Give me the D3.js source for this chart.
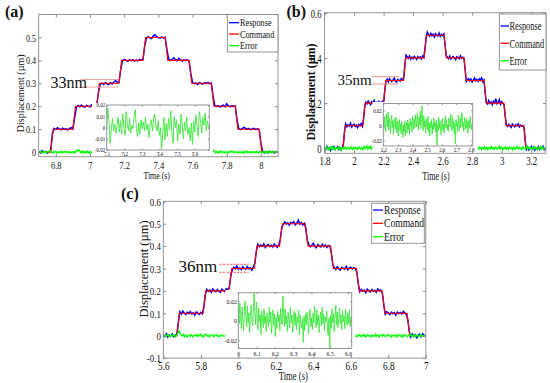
<!DOCTYPE html>
<html>
<head>
<meta charset="utf-8">
<script src="https://cdn.jsdelivr.net/npm/d3@7"></script>
<style>
  html, body { margin: 0; padding: 0; background: #fff; }
  svg { display: block; }
  svg text { font-family: "Liberation Serif", "Times New Roman", Times, "DejaVu Serif", serif; }
</style>
</head>
<body>
<svg id="chart" width="550" height="383"></svg>
<script>
// ---------- data (displacement in nm, time in s) ----------
const levels = [0, 0.1, 0.2, 0.3, 0.4, 0.5, 0.4, 0.3, 0.2, 0.1, 0]; // command plateaus (µm)
const legendLabels = ["Response", "Command", "Error"];

// panel (a)
const stepsA = [6.77, 6.90, 7.04, 7.17, 7.31, 7.44, 7.58, 7.71, 7.85, 7.99];
const respA = [4,-3,6,-2,3,-5,2,8,82,103,98,106,101,97,104,99,102,96,103,107,101,148,194,203,198,205,199,196,204,200,
  197,206,201,204,209,262,296,301,295,303,298,294,302,297,305,312,303,306,362,398,404,401,396,402,399,403,397,401,398,404,
  402,405,462,497,503,498,495,506,512,503,499,497,502,498,501,448,406,399,403,411,404,398,409,402,397,403,399,402,396,342,
  303,298,301,295,303,300,296,302,299,304,298,301,245,204,199,203,196,201,205,198,211,202,197,203,199,201,142,103,98,102,
  108,104,99,103,97,101,104,98,102,99,38,3,-4,2,-3,5,-2,1,-4,3,-1]; // from 6.70, every 0.01 s
const errLeftA = [2,-1,3,-3,1,-4,2,-2,0,3,-2,1,4,8,3,-1,-4,2,-3,1,3,-2,0,-4,2,-1,3,-3,1,-2,4,2,-3,1,-1,3,-2,0,-3,2,
  1,-4,3,-1,6,10,5,9,4,-2,3,-3,5,1,-4,2,-2,4,-1,-5,3,0,-3,4,-2,2,-4,1,3,-2,0]; // from 6.70, every 0.005 s
const errRightA = [4,8,2,-3,3,-1,-4,2,-2,5,1,-3,0,3,-4,-1,2,-5,1,3,-2,4,6,2,-3,1,-2,3,-1,-4,2,0,-3,3,-2,1,-5,2,4,-1,
  3,-3,0,2,-4,1,-2,3,-1,2,-3,4,-2,-5,1,3,-1,-3,2,0,-2,3,-4,1,2,-3,4,-1,2,-3,1,3,-2,0,2,-1,3]; // from 7.72
const insetA = [0,17,6,-14,-2,8,-3,3,-5,2,9,-4,6,-6,12,1,-7,14,3,-3,8,-5,2,-1,10,16,-2,-8,4,-6,7,-1,5,-3,9,-2,3,-9,2,7,
  -3,8,12,1,-3,6,-7,0,-19,-5,9,-11,4,-8,8,-2,15,-4,-14,10,0,7,-12,3,-6,12,2,-10,5,-3,9,-6,0,-12,4,-15,6,-4,11,1,
  -8,14,7,-5,9,2,13,-3,6,-1,-2]; // from 7.10
const xTicksA = [6.8, 7, 7.2, 7.4, 7.6, 7.8, 8];
const yTicksA = [0, 0.1, 0.2, 0.3, 0.4, 0.5];
const insetXTicksA = [7.1, 7.2, 7.3, 7.4, 7.5, 7.6];
const insetYTicksA = [-0.02, -0.01, 0, 0.01, 0.02];

// panel (b)
const stepsB = [1.925, 2.06, 2.2, 2.335, 2.475, 2.61, 2.745, 2.88, 3.015, 3.15];
const respB = [5,-6,8,-3,2,-9,4,-2,7,-5,1,6,-4,3,-7,2,20,78,108,96,104,99,111,94,102,107,97,103,92,105,100,109,98,128,182,
  204,197,209,201,193,206,199,211,196,203,198,207,194,202,208,199,255,297,306,294,308,301,296,303,311,299,293,305,302,297,309,304,
  308,368,412,405,398,409,394,403,397,407,401,393,406,399,404,396,408,402,438,489,514,503,496,509,498,505,493,507,501,497,510,495,
  504,499,506,462,410,404,397,408,395,402,406,399,393,405,401,396,409,398,403,400,352,296,304,309,298,306,293,302,311,299,305,297,
  307,301,312,295,303,248,203,196,211,199,205,193,208,201,220,197,204,216,195,206,199,192,143,104,97,106,99,93,107,102,96,105,
  100,108,95,103,98,101,88,28,-4,6,-7,3,9,-2,5,-8,2,-3,7,-5,4,-1,8,-6,3]; // from 1.80, every 0.008 s
const errLeftB = [3,-5,6,-2,4,-7,1,5,-3,8,-4,2,-6,3,0,-2,7,-5,1,-8,3,4,-3,6,-1,-5,2,5,-4,1,7,-2,-6,3,-1,5,-3,2,-4,6,
  1,-3,4,-5,2,8,-2,3,10,-4,6,1,9,-3,5,2]; // from 1.80, every 0.006 s
const errRightB = [4,-3,6,1,-5,3,-2,7,-4,2,5,-6,1,3,-3,8,-1,4,-5,2,6,-2,-4,3,9,-3,5,1,-6,4,-1,7,-3,2,-5,6,0,-2,4,-7,
  3,5,-4,1,8,-2,-3,5,2,-6,3,7,-1,-4,2,10,-3,4,-2,6,-5,1,3,-4,7,-1,2,-6,4,1,-3,8,-2,5,-4,3,0]; // from 2.84
const insetB = [8,-4,12,2,-8,15,5,-2,18,-6,10,3,-10,6,14,-3,7,-12,4,9,
  -5,11,0,-9,6,-14,3,8,-7,2,-11,5,-4,-16,1,-8,6,-13,-2,4,
  -10,7,-6,3,-12,9,-1,5,-8,12,2,-5,10,-3,14,6,-2,16,4,-6,
  11,1,19,-4,8,26,3,-7,13,-2,6,-10,9,0,-5,12,-8,3,-14,5,
  -3,8,-11,2,-6,10,-2,4,-9,7,-26,1,-7,11,-4,6,-1,-12,3,9,
  -6,2,-10,5,13,-3,8,-5,1,-8,10,4,-2,15,0,-7,12,-4,6,-11,
  3,-24,8,-1,5,-9,14,2,-6,10,-3,7,17,-2,4,-8,11,1,-5,9,
  -3,6,-10,2,8,-4,12,0,-6,3,5]; // from 2.20
const xTicksB = [1.8, 2, 2.2, 2.4, 2.6, 2.8, 3, 3.2];
const yTicksB = [0, 0.2, 0.4, 0.6];
const insetXTicksB = [2.2, 2.3, 2.4, 2.5, 2.6, 2.7, 2.8];
const insetYTicksB = [-0.02, 0, 0.02];

// panel (c)
const stepsC = [5.672, 5.812, 5.95, 6.085, 6.22, 6.357, 6.492, 6.63, 6.767, 6.90];
const respC = [6,-4,9,-7,3,-2,8,-5,2,4,58,107,96,110,101,94,105,99,108,97,103,92,106,100,95,104,98,128,183,
  207,198,204,193,209,201,196,206,199,194,208,203,197,210,205,216,268,294,306,299,311,297,303,295,308,301,296,309,298,304,293,307,
  322,376,408,397,405,399,410,394,403,407,398,404,396,409,401,395,406,431,484,497,508,499,504,493,506,501,509,495,503,516,498,505,
  494,502,478,425,409,397,404,412,399,393,407,401,396,408,398,405,394,403,400,371,318,304,296,308,299,293,305,301,297,309,294,303,
  306,298,304,300,285,231,196,207,199,204,192,208,201,195,206,198,203,194,209,200,205,191,138,96,107,101,94,105,98,103,92,106,
  99,104,97,108,102,95,71,18,-6,8,-3,5,-9,2,7,-4,9,-2,4]; // from 5.60, every 0.008 s
const errLeftC = [3,-5,4,-2,6,-4,1,-3,5,-1,2,-6,4,12,22,10,3,-2,6,-4,2,-7,1,4,-3,5,-5,0,3,-2,6,-4,2,7,-3,1,-5,4,8,-2,
  3,-6,2,5,-1,-4,3,6,-3,1,-5,2,4,-2,0,-3]; // from 5.60, every 0.006 s
const errRightC = [-6,2,-3,5,1,-4,3,-2,6,-5,0,4,-3,2,-6,3,1,-4,7,-2,3,-5,1,4,-3,6,-1,-4,2,5,-2,3,-6,1,4,-3,2,-5,6,0,
  -3,4,-7,2,5,-1,-4,3,-2,6,-3,1,-5,4,-2,3,-6,2,5,-4,1,-3,2]; // from 6.625
const insetC = [12,-3,18,5,-8,14,2,-10,9,20,4,-6,15,-2,8,-12,6,16,1,-5,
  11,30,7,-4,19,3,-9,13,-1,6,-14,10,2,-7,12,-3,5,-11,8,0,
  -6,14,-2,9,-13,4,11,-5,7,-16,3,-8,10,-1,6,-10,13,2,-4,25,
  8,-6,12,-3,5,-11,9,1,-7,14,-2,6,-12,3,10,-5,8,-9,4,-2,
  11,-14,6,-3,-8,2,-22,5,-10,7,-4,9,-1,-13,4,12,-6,3,-9,8,
  -2,15,0,-7,11,-4,6,-12,2,9,-5,14,-3,7,-10,4,-1,10,-6,-15,
  3,-30,5,-8,12,-2,7,-11,4,16,-4,9,-7,2,13,-3,6,-9,10,-1,
  5,-8,12,0,-5,8,-3,11,-6,4,2]; // from 6.00
const xTicksC = [5.6, 5.8, 6, 6.2, 6.4, 6.6, 6.8, 7];
const yTicksC = [-0.1, 0, 0.1, 0.2, 0.3, 0.4, 0.5, 0.6];
const insetXTicksC = [6, 6.1, 6.2, 6.3, 6.4, 6.5, 6.6];
const insetYTicksC = [-0.02, 0, 0.02];

// ---------- helpers ----------
const grey = "#8a8a8a";
const RAMP = 0.015;
const svg = d3.select("#chart");

function sampled(t0, dt, vals) { return vals.map((v, i) => [t0 + i * dt, v / 1000]); }

function stairs(edges, x0, x1) {
  const pts = [[x0, levels[0]]];
  edges.forEach((t, k) => { pts.push([t, levels[k]], [t + RAMP, levels[k + 1]]); });
  pts.push([x1, levels[levels.length - 1]]);
  return pts;
}

// the source figure is squashed horizontally, so text is narrowed too
function squeeze(sel, k) {
  sel.each(function () {
    const t = d3.select(this);
    const x = +t.attr("x") || 0;
    const pre = t.attr("transform") || "";
    t.attr("x", x / k).attr("transform", `${pre} scale(${k},1)`);
  });
}

function frame(g, x, y, o) {
  const [x0, x1] = x.range(), [y0, y1] = y.range();
  const add = (axis, tr) => g.append("g").attr("transform", tr).call(axis)
    .attr("font-family", null).attr("color", grey)
    .call(s => s.select(".domain").remove());
  const bx = add(d3.axisBottom(x).tickValues(o.xTicks).tickFormat(String).tickSizeInner(-o.tick).tickSizeOuter(0), `translate(0,${y0})`);
  bx.selectAll("text").attr("y", o.xLabY).attr("dy", null).attr("fill", "#111").attr("font-size", o.xFont).call(squeeze, o.sq);
  const ly = add(d3.axisLeft(y).tickValues(o.yTicks).tickFormat(String).tickSizeInner(-o.tick).tickSizeOuter(0), `translate(${x0},0)`);
  ly.selectAll("text").attr("x", -o.yLabX).attr("dy", "0.34em").attr("fill", "#111").attr("font-size", o.yFont).call(squeeze, o.sq);
  add(d3.axisTop(x).tickValues(o.xTicks).tickFormat("").tickSizeInner(-o.tick).tickSizeOuter(0), `translate(0,${y1})`);
  add(d3.axisRight(y).tickValues(o.yTicks).tickFormat("").tickSizeInner(-o.tick).tickSizeOuter(0), `translate(${x1},0)`);
  g.append("rect").attr("x", x0).attr("y", y1).attr("width", x1 - x0).attr("height", y0 - y1)
    .attr("fill", "none").attr("stroke", grey).attr("stroke-width", 0.9);
}

function panel(p) {
  const g = svg.append("g");
  const [L, T, R, B] = p.box;
  const x = d3.scaleLinear().domain(p.xDomain).range([L, R]);
  const y = d3.scaleLinear().domain(p.yDomain).range([B, T]);
  const line = d3.line().x(d => x(d[0])).y(d => y(d[1]));

  g.append("clipPath").attr("id", "clip-" + p.id).append("rect")
    .attr("x", L).attr("y", T).attr("width", R - L).attr("height", B - T);
  const plot = g.append("g").attr("clip-path", `url(#clip-${p.id})`);

  plot.append("path").datum(p.resp).attr("d", line)
    .attr("fill", "none").attr("stroke", "#0000ff").attr("stroke-width", 1.5);
  plot.append("path").datum(p.cmd).attr("d", line)
    .attr("fill", "none").attr("stroke", "#ff0000").attr("stroke-width", 1.1);
  p.err.forEach(seg => plot.append("path").datum(seg).attr("d", line)
    .attr("fill", "none").attr("stroke", "#00ff00").attr("stroke-width", 1.3));

  // ripple annotation
  const a = p.note;
  [a.hi, a.lo].forEach(v => g.append("line")
    .attr("x1", x(a.t0)).attr("x2", x(a.t1)).attr("y1", y(v)).attr("y2", y(v))
    .attr("stroke", a.color).attr("stroke-width", 0.9).attr("stroke-dasharray", a.dash));
  g.append("text").attr("x", x(a.textT)).attr("y", y(a.textV)).attr("text-anchor", "end")
    .attr("font-size", a.font).attr("fill", "#111").text(a.label);

  // inset with the error close up
  const q = p.inset;
  g.append("rect").attr("x", q.bg[0]).attr("y", q.bg[1]).attr("width", q.bg[2] - q.bg[0]).attr("height", q.bg[3] - q.bg[1])
    .attr("fill", "#fff");
  const ix = d3.scaleLinear().domain(q.xDomain).range([q.box[0], q.box[2]]);
  const iy = d3.scaleLinear().domain(q.yDomain).range([q.box[3], q.box[1]]);
  g.append("clipPath").attr("id", "iclip-" + p.id).append("rect")
    .attr("x", q.box[0]).attr("y", q.box[1]).attr("width", q.box[2] - q.box[0]).attr("height", q.box[3] - q.box[1]);
  g.append("path").datum(q.data).attr("clip-path", `url(#iclip-${p.id})`)
    .attr("d", d3.line().x(d => ix(d[0])).y(d => iy(d[1])))
    .attr("fill", "none").attr("stroke", "#3ee83e").attr("stroke-width", 0.9);
  frame(g, ix, iy, q.axis);

  frame(g, x, y, p.axis);

  // legend
  const lg = p.legend;
  g.append("rect").attr("x", lg.box[0]).attr("y", lg.box[1]).attr("width", lg.box[2] - lg.box[0]).attr("height", lg.box[3] - lg.box[1])
    .attr("fill", "#fff").attr("stroke", grey).attr("stroke-width", 0.9);
  const colors = ["#0000ff", "#ff0000", "#00ff00"];
  legendLabels.forEach((name, i) => {
    g.append("line").attr("x1", lg.line[0]).attr("x2", lg.line[1]).attr("y1", lg.rows[i]).attr("y2", lg.rows[i])
      .attr("stroke", colors[i]).attr("stroke-width", 1.3);
    g.append("text").attr("x", lg.textX).attr("y", lg.rows[i]).attr("dy", "0.34em")
      .attr("font-size", lg.font).attr("fill", "#111").text(name)
      .call(squeeze, lg.sq);
  });

  // titles
  const t = p.titles;
  g.append("text").attr("x", t.x[0]).attr("y", t.x[1]).attr("text-anchor", "middle")
    .attr("font-size", t.xFont).attr("fill", "#111").text("Time (s)")
    .call(squeeze, t.sq);
  g.append("text").attr("transform", `translate(${t.y[0]},${t.y[1]}) rotate(-90)`).attr("text-anchor", "middle")
    .attr("dy", "0.35em").attr("font-size", t.yFont)
    .attr("font-weight", t.yBold ? "bold" : "normal").attr("fill", "#111").text("Displacement (µm)");
  g.append("text").attr("x", t.tag[0]).attr("y", t.tag[1])
    .attr("font-size", 16).attr("font-weight", "bold").attr("fill", "#111").text(`(${p.id})`);
}

// ---------- panels ----------
panel({
  id: "a", box: [38.7, 14.5, 278, 156.7], xDomain: [6.7, 8.1], yDomain: [-0.02, 0.6],
  resp: sampled(6.70, 0.01, respA), cmd: stairs(stepsA, 6.7, 8.1),
  err: [sampled(6.70, 0.005, errLeftA), sampled(7.72, 0.005, errRightA)],
  axis: { xTicks: xTicksA, yTicks: yTicksA, tick: 3, xLabY: 12.3, yLabX: 2.5, xFont: 11, yFont: 10.5, sq: 0.78 },
  note: { label: "33nm", t0: 6.945, t1: 7.165, hi: 0.3165, lo: 0.2835, textT: 6.983, textV: 0.2816, font: 16, color: "#f29a9a", dash: null },
  inset: {
    bg: [92, 103, 212, 156], box: [106.7, 105, 209.3, 150], xDomain: [7.1, 7.683], yDomain: [-0.02, 0.02],
    data: sampled(7.10, 0.0065, insetA),
    axis: { xTicks: insetXTicksA, yTicks: insetYTicksA, tick: 1.5, xLabY: 6, yLabX: 1.5, xFont: 5.5, yFont: 5.5, sq: 0.9 }
  },
  legend: { box: [227.3, 14.5, 278, 52], rows: [22.7, 34, 45.7], line: [229, 239], textX: 240, font: 11, sq: 0.75 },
  titles: { x: [156.7, 179.5], xFont: 10.5, sq: 0.75, y: [20.5, 93.3], yFont: 10, tag: [5, 16.5] }
});

panel({
  id: "b", box: [324.5, 12.7, 546, 153.3], xDomain: [1.8, 3.3], yDomain: [-0.022, 0.6],
  resp: sampled(1.80, 0.008, respB), cmd: stairs(stepsB, 1.8, 3.3),
  err: [sampled(1.80, 0.006, errLeftB), sampled(2.84, 0.006, errRightB)],
  axis: { xTicks: xTicksB, yTicks: yTicksB, tick: 3, xLabY: 12, yLabX: 3, xFont: 13.5, yFont: 13, sq: 0.66 },
  note: { label: "35nm", t0: 2.12, t1: 2.30, hi: 0.3168, lo: 0.2845, textT: 2.1196, textV: 0.28, font: 15, color: "#f08080", dash: null },
  inset: {
    bg: [372.5, 102, 477, 152.5], box: [383.3, 103.5, 472.7, 146], xDomain: [2.2, 2.812], yDomain: [-0.027, 0.029],
    data: sampled(2.20, 0.00408, insetB),
    axis: { xTicks: insetXTicksB, yTicks: insetYTicksB, tick: 1.5, xLabY: 6, yLabX: 1.5, xFont: 5.5, yFont: 5.5, sq: 0.9 }
  },
  legend: { box: [499.3, 14, 546, 70], rows: [26, 43.3, 60.7], line: [500.5, 509], textX: 509.5, font: 13, sq: 0.64 },
  titles: { x: [436, 180], xFont: 13.5, sq: 0.6, y: [311, 92], yFont: 12, yBold: true, tag: [286.5, 16.5] }
});

panel({
  id: "c", box: [163.3, 201.3, 425.8, 358.1], xDomain: [5.6, 7.0], yDomain: [-0.1, 0.6],
  resp: sampled(5.60, 0.008, respC), cmd: stairs(stepsC, 5.6, 7.0),
  err: [sampled(5.60, 0.006, errLeftC), sampled(6.625, 0.006, errRightC)],
  axis: { xTicks: xTicksC, yTicks: yTicksC, tick: 3, xLabY: 11.5, yLabX: 2.5, xFont: 11.5, yFont: 11, sq: 0.8 },
  note: { label: "36nm", t0: 5.9, t1: 6.055, hi: 0.3188, lo: 0.283, textT: 5.888, textV: 0.2844, font: 17, color: "#ff3030", dash: "2,1.5" },
  inset: {
    bg: [225.5, 290, 355, 357], box: [238.3, 292.7, 351.7, 348.5], xDomain: [6.0, 6.62], yDomain: [-0.0282, 0.0285],
    data: sampled(6.00, 0.00413, insetC),
    axis: { xTicks: insetXTicksC, yTicks: insetYTicksC, tick: 1.5, xLabY: 7.5, yLabX: 1.5, xFont: 6.5, yFont: 6.5, sq: 0.9 }
  },
  legend: { box: [371.7, 203.3, 424.3, 243.3], rows: [210, 223.3, 236.7], line: [373, 383], textX: 384, font: 12, sq: 0.8 },
  titles: { x: [293.3, 380.5], xFont: 12, sq: 0.72, y: [143.5, 269], yFont: 12.5, tag: [121, 199] }
});
</script>
</body>
</html>
